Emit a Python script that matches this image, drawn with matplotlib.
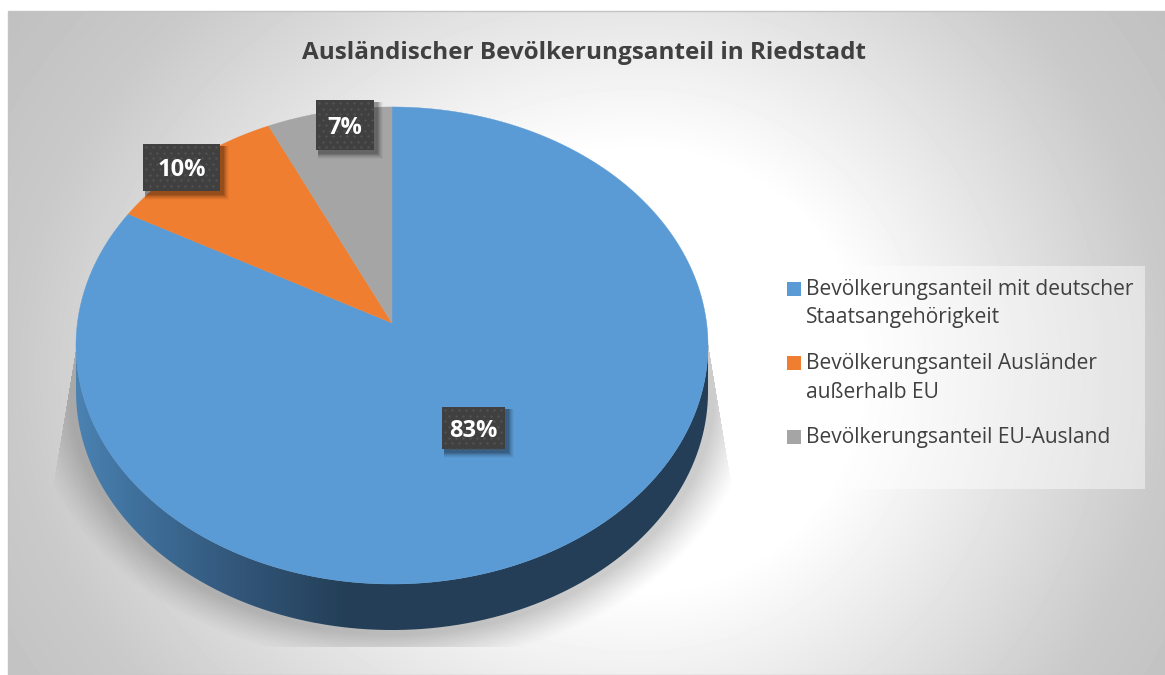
import numpy as np
import matplotlib
matplotlib.use("Agg")
import matplotlib.pyplot as plt
from matplotlib.patches import Rectangle, Polygon, PathPatch
from matplotlib.path import Path

# data
categories = ["Bevölkerungsanteil mit deutscher\nStaatsangehörigkeit",
              "Bevölkerungsanteil Ausländer\naußerhalb EU",
              "Bevölkerungsanteil EU-Ausland"]
values = [83, 10, 7]
colors = ["#5B9BD5", "#F07E30", "#A5A5A5"]
title = "Ausländischer Bevölkerungsanteil in Riedstadt"

# label boxes in pixels: x0, y0, x1, y1
boxes = [(442, 407, 505, 449), (143, 144, 220, 191), (316, 100, 374, 150)]
legend_y = [289, 363, 437]

W, H = 1165, 675
fig = plt.figure(figsize=(W / 100, H / 100), dpi=100)
ax = fig.add_axes([0, 0, 1, 1])
ax.axis("off")

# pie projection (circle seen in perspective, apex is above the ellipse centre)
cx, cy = 392, 323
a, b, k = 314.6, 236.4, 0.0943
depth = 46


def project(t):
    u, v = np.sin(t), np.cos(t)
    d = 1 + k * v
    return cx + a * u / d, cy - b * v / d


# background gradient
x0, x1, y0, y1 = 8, 1165, 11, 675
xx, yy = np.meshgrid(np.arange(x0, x1), np.arange(y0, y1))
r = np.hypot((xx - 640) / np.where(xx > 640, 525, 625), (yy - 370) / 520)
bg = np.interp(r, [0, 0.42, 1.0, 1.3], [1.0, 1.0, 0.79, 0.74])
ax.imshow(bg, extent=(x0, x1, y1, y0), cmap="gray", vmin=0, vmax=1, aspect="auto", zorder=1)
ax.add_patch(Rectangle((x0, y0), x1 - x0, y1 - y0, fill=False, ec="#c4c4c4", lw=1, zorder=1.5))

# soft shadow under the pie
rr = np.hypot((xx - 392) / 316, (yy - 391) / 239)
alpha = np.clip((1.15 - rr) / 0.13, 0, 1) ** 1.2 * 0.2
left = np.interp(yy, [345, 490], [76, 52])
right = np.interp(yy, [345, 490], [708, 732])
alpha[(xx < left) | (xx > right) | (yy < 345) | (yy > 646)] = 0
shadow = np.zeros(xx.shape + (4,))
shadow[..., 3] = alpha
ax.imshow(shadow, extent=(x0, x1, y1, y0), aspect="auto", zorder=2)

# side of the pie with gradient
t = np.linspace(0, 2 * np.pi, 1441)
ox, oy = project(t)
il, ir = np.argmin(ox), np.argmax(ox)
lo = np.arange(ir, il + 1)
side_x = np.r_[ox[lo], ox[lo][::-1]]
side_y = np.r_[oy[lo] + depth, oy[lo][::-1]]
side_path = PathPatch(Path(np.c_[side_x, side_y]), fc="none", ec="none", transform=ax.transData)
ax.add_patch(side_path)
gx = np.arange(70, 715)
stops = [70, 130, 230, 350, 715]
rgb = np.stack([np.interp(gx, stops, [0x4C, 0x40, 0x33, 0x23, 0x23]),
                np.interp(gx, stops, [0x84, 0x72, 0x58, 0x3E, 0x3E]),
                np.interp(gx, stops, [0xB4, 0x9E, 0x7C, 0x56, 0x56])], axis=-1) / 255
im = ax.imshow(rgb[None, ...], extent=(70, 715, 640, 330), aspect="auto", zorder=3)
im.set_clip_path(side_path)

# slices, clockwise from the top
edges = np.r_[0, np.cumsum(values)] / np.sum(values) * 2 * np.pi
for i, col in enumerate(colors):
    tt = np.linspace(edges[i], edges[i + 1], 400)
    px, py = project(tt)
    ax.add_patch(Polygon(np.c_[np.r_[cx, px], np.r_[cy, py]], closed=True, fc=col, ec=col, lw=0.3, zorder=4))

# data labels
for val, (bx0, by0, bx1, by1) in zip(values, boxes):
    for off, al in [(9, 0.03), (8, 0.05), (7, 0.06), (6, 0.08), (5, 0.1), (4, 0.12)]:
        ax.add_patch(Rectangle((bx0 + 2, by0 + 2), bx1 - bx0 + off - 2, by1 - by0 + off - 2,
                               fc="black", alpha=al, lw=0, zorder=5))
    ax.add_patch(Rectangle((bx0, by0), bx1 - bx0, by1 - by0, fc="#404040", lw=0, zorder=6))
    # dotted fill of the box
    dx, dy = [], []
    for j, yd in enumerate(np.arange(by0 + 3, by1, 5.5)):
        for xd in np.arange(bx0 + 3 + (j % 2) * 3.5, bx1 - 1, 7):
            dx.append(xd)
            dy.append(yd)
    ax.scatter(dx, dy, s=3, c="#525252", linewidths=0, zorder=7)
    ax.text((bx0 + bx1) / 2, (by0 + by1) / 2 + 3, f"{val}%", color="white", family="Open Sans",
            weight="bold", fontsize=17, ha="center", va="center", zorder=8)

# title
ax.text(584, 53, title, color="#404040", family="Open Sans", weight="bold", fontsize=17.5,
        ha="center", va="center", zorder=8)

# legend
ax.add_patch(Rectangle((775, 266), 370, 223, fc="white", alpha=0.45, lw=0, zorder=3))
for lab, col, ly in zip(categories, colors, legend_y):
    ax.add_patch(Rectangle((787, ly - 7), 14, 14, fc=col, lw=0, zorder=4))
    for n, line in enumerate(lab.split("\n")):
        ax.text(806, ly + 1 + n * 28, line, color="#404040", family="Open Sans", fontsize=15.1,
                ha="left", va="center", zorder=8)

ax.set_xlim(0, W)
ax.set_ylim(H, 0)
fig.savefig("out.png", dpi=100, facecolor="white")
